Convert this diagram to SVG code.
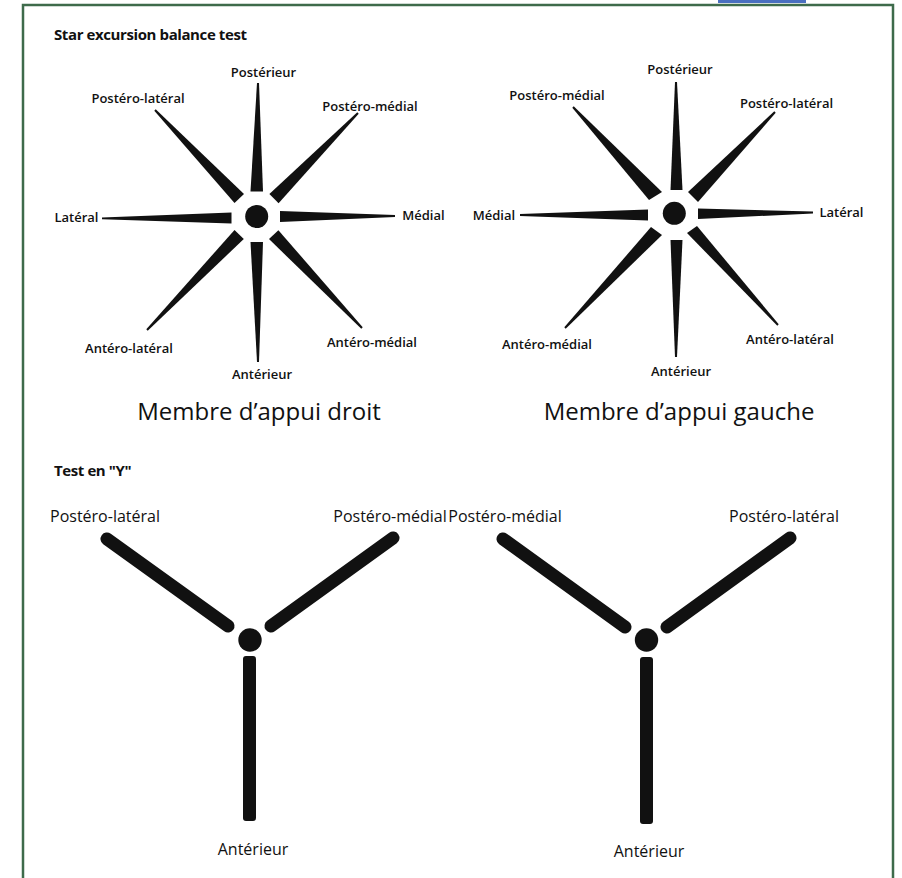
<svg xmlns="http://www.w3.org/2000/svg" width="902" height="878" viewBox="0 0 902 878">
<style>
.lbl{font-family:"Open Sans","Liberation Sans",sans-serif;font-size:13px;font-weight:600;fill:#111;text-anchor:middle}
.ylbl{font-family:"Open Sans","Liberation Sans",sans-serif;font-size:16px;font-weight:400;fill:#111;text-anchor:middle}
.head{font-family:"Open Sans","Liberation Sans",sans-serif;font-size:15px;font-weight:700;fill:#111;letter-spacing:-0.4px}
.cap{font-family:"Open Sans","Liberation Sans",sans-serif;font-size:24px;font-weight:400;fill:#111;text-anchor:middle}
.ray{fill:#111;stroke:none}
.dot{fill:#111}
.arm{stroke:#111;stroke-width:13;stroke-linecap:round;fill:none}
.leg{fill:#111}
</style>
<rect x="0" y="0" width="902" height="878" fill="#ffffff"/>
<rect x="718" y="0" width="88" height="3" fill="#4a6fc0"/>
<rect x="23" y="5" width="870" height="880" fill="none" stroke="#3e6b4b" stroke-width="2.5"/>

<g id="title-sebt"><text class="head" x="54" y="40">Star excursion balance test</text></g>

<g id="star-droit">
  <g id="star1-rays">
    <polygon class="ray" points="250.5,191.5 263,191.5 259,83 257,83"/>
    <polygon class="ray" points="250.5,242 263,242 259,362 257,362"/>
    <polygon class="ray" points="231.5,212.5 231.5,223.5 102,219.3 102,217.5"/>
    <polygon class="ray" points="280,211 280,222 395,217 395,215"/>
    <polygon class="ray" points="234.5,203 154.3,110.7 155.7,109.3 244,194"/>
    <polygon class="ray" points="269.4,194.1 357.3,112.3 358.7,113.7 278.6,203.2"/>
    <polygon class="ray" points="234.5,230 146.3,329.3 147.7,330.7 243.8,239"/>
    <polygon class="ray" points="269,239.1 361.3,328.7 362.7,327.3 278.4,230.2"/>
  </g>
  <circle class="dot" cx="256.7" cy="216.5" r="11.5"/>
  <text class="lbl" x="263.5" y="77">Postérieur</text>
  <text class="lbl" x="138" y="103">Postéro-latéral</text>
  <text class="lbl" x="370" y="110.5">Postéro-médial</text>
  <text class="lbl" x="76.5" y="221.5">Latéral</text>
  <text class="lbl" x="423.5" y="220">Médial</text>
  <text class="lbl" x="129" y="352.5">Antéro-latéral</text>
  <text class="lbl" x="372" y="346.5">Antéro-médial</text>
  <text class="lbl" x="262" y="379">Antérieur</text>
  <text class="cap" x="259" y="420">Membre d’appui droit</text>
</g>

<g id="star-gauche">
  <g id="star2-rays">
    <polygon class="ray" points="670.5,190 682.5,190 677,82 675,82"/>
    <polygon class="ray" points="670.5,240 682.5,240 677,357 675,357"/>
    <polygon class="ray" points="648,209.5 648,220.5 520,216 520,214"/>
    <polygon class="ray" points="698,208.5 698,219 813,213.5 813,211.5"/>
    <polygon class="ray" points="649,200 572.3,107.7 573.7,106.3 662,192"/>
    <polygon class="ray" points="688,192 774.3,111.3 775.7,112.7 698,202"/>
    <polygon class="ray" points="651,227 564.3,327.3 565.7,328.7 662,235"/>
    <polygon class="ray" points="687,233 777.3,325.7 778.7,324.3 697,226"/>
  </g>
  <circle class="dot" cx="674.3" cy="213.3" r="11.5"/>
  <text class="lbl" x="680" y="73.5">Postérieur</text>
  <text class="lbl" x="557" y="100">Postéro-médial</text>
  <text class="lbl" x="786.5" y="107.5">Postéro-latéral</text>
  <text class="lbl" x="494" y="219.5">Médial</text>
  <text class="lbl" x="841.5" y="216.5">Latéral</text>
  <text class="lbl" x="547" y="349">Antéro-médial</text>
  <text class="lbl" x="790" y="344">Antéro-latéral</text>
  <text class="lbl" x="681" y="376">Antérieur</text>
  <text class="cap" x="679" y="420">Membre d’appui gauche</text>
</g>

<g id="title-y"><text class="head" x="54" y="476">Test en "Y"</text></g>

<g id="y-droit">
  <line class="arm" x1="107" y1="539" x2="228" y2="626"/>
  <line class="arm" x1="271" y1="626" x2="393" y2="538"/>
  <rect class="leg" x="243" y="656" width="13" height="165" rx="3"/>
  <circle class="dot" cx="250" cy="640" r="11.7"/>
  <text class="ylbl" x="105" y="522">Postéro-latéral</text>
  <text class="ylbl" x="390" y="522">Postéro-médial</text>
  <text class="ylbl" x="253" y="855">Antérieur</text>
</g>

<g id="y-gauche">
  <line class="arm" x1="503" y1="539" x2="625" y2="627"/>
  <line class="arm" x1="667" y1="627" x2="790" y2="538"/>
  <rect class="leg" x="640" y="657" width="13" height="167" rx="3"/>
  <circle class="dot" cx="646.5" cy="640" r="11.7"/>
  <text class="ylbl" x="505" y="522">Postéro-médial</text>
  <text class="ylbl" x="784" y="522">Postéro-latéral</text>
  <text class="ylbl" x="649" y="857">Antérieur</text>
</g>

<g id="connectors"></g>
</svg>
